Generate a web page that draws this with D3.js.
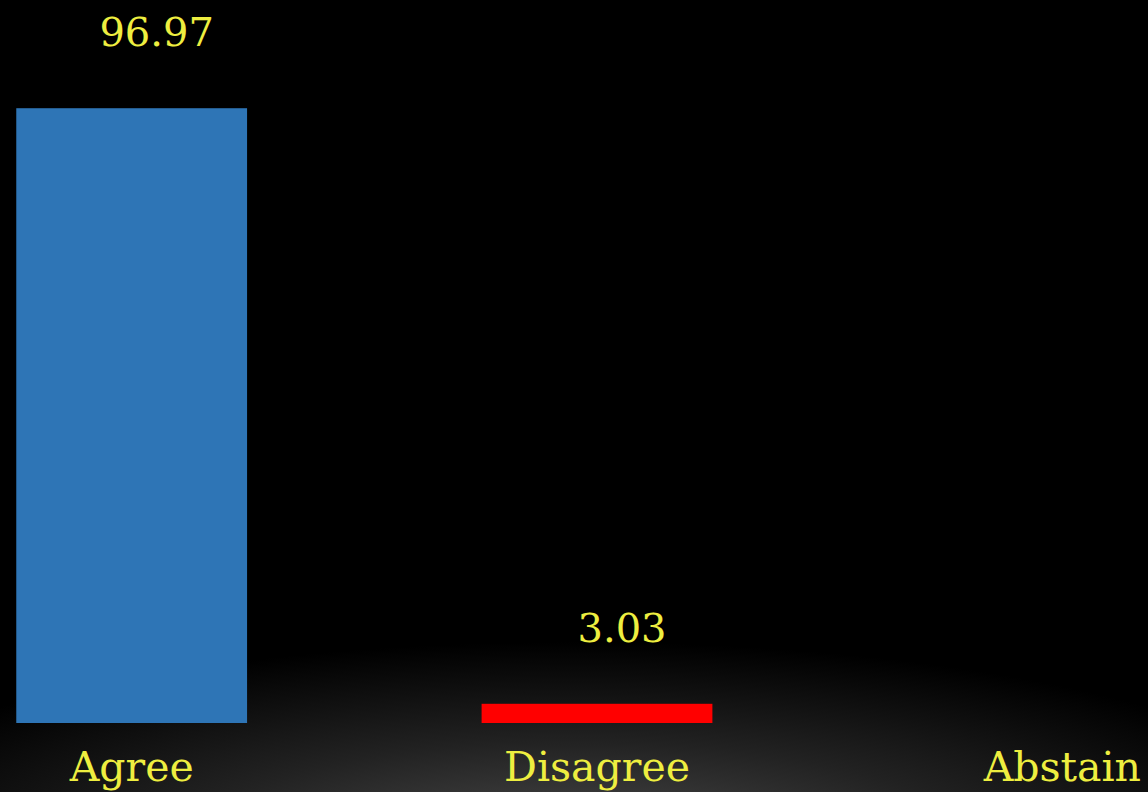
<!DOCTYPE html>
<html>
<head>
<meta charset="utf-8">
<style>
  html, body { margin: 0; padding: 0; background: #000; }
  svg { display: block; }
</style>
</head>
<body>
<svg width="1148" height="792"></svg>
<script src="https://cdn.jsdelivr.net/npm/d3@7/dist/d3.min.js"></script>
<script>

var categories = ["Agree", "Disagree", "Abstain"];
var values = [96.97, 3.03, 0];
var valueLabels = ["96.97", "3.03", ""];
var barColors = ["#2e75b6", "#ff0000", "#a5a5a5"];

var svg = d3.select("svg"),
    width = +svg.attr("width"),
    height = +svg.attr("height");

// dark backdrop with a soft glow at the bottom
var defs = svg.append("defs");
var glow = defs.append("radialGradient")
    .attr("id", "glow")
    .attr("cx", "50%").attr("cy", "50%").attr("r", "50%");
glow.append("stop").attr("offset", "0%").attr("stop-color", "#4a4a4a");
glow.append("stop").attr("offset", "50%").attr("stop-color", "#222");
glow.append("stop").attr("offset", "100%").attr("stop-color", "#000");

svg.append("rect")
    .attr("width", width).attr("height", height)
    .attr("fill", "#000");

svg.append("ellipse")
    .attr("cx", width / 2).attr("cy", height + 50)
    .attr("rx", 780).attr("ry", 200)
    .attr("fill", "url(#glow)");

var baseY = 723;

var x = d3.scaleBand()
    .domain(categories)
    .range([-101, 1295])
    .paddingInner(0.504)
    .paddingOuter(0.252);

var y = d3.scaleLinear()
    .domain([0, 100])
    .range([baseY, baseY - 634]);

var data = categories.map(function(c, i) {
  return {cat: c, value: values[i], label: valueLabels[i], color: barColors[i]};
});

var g = svg.append("g");

g.selectAll("rect.bar")
  .data(data.filter(function(d) { return d.value > 0; }))
  .enter().append("rect")
    .attr("class", "bar")
    .attr("x", function(d) { return x(d.cat); })
    .attr("y", function(d) { return y(d.value); })
    .attr("width", x.bandwidth())
    .attr("height", function(d) { return y(0) - y(d.value); })
    .attr("fill", function(d) { return d.color; });

g.selectAll("text.val")
  .data(data.filter(function(d) { return d.label; }))
  .enter().append("text")
    .attr("class", "val")
    .attr("x", function(d) { return x(d.cat) + x.bandwidth() / 2 + 25; })
    .attr("y", function(d) { return y(d.value) - 62; })
    .attr("text-anchor", "middle")
    .attr("fill", "#eeee40")
    .style("font-family", "'DejaVu Serif', serif")
    .style("font-size", "40px")
    .text(function(d) { return d.label; });

g.selectAll("text.cat")
  .data(data)
  .enter().append("text")
    .attr("class", "cat")
    .attr("x", function(d) { return x(d.cat) + x.bandwidth() / 2; })
    .attr("y", 781)
    .attr("text-anchor", "middle")
    .attr("fill", "#eeee40")
    .style("font-family", "'DejaVu Serif', serif")
    .style("font-size", "41px")
    .text(function(d) { return d.cat; });

</script>
</body>
</html>
